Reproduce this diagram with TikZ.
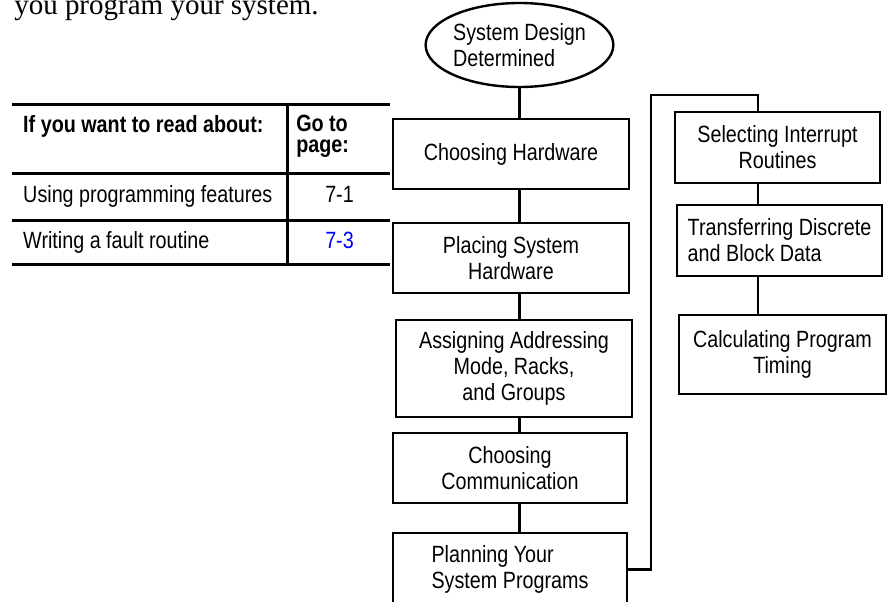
\documentclass[tikz,border=0pt]{standalone}
\usepackage{fontspec}
\setmainfont{Liberation Sans}[FakeStretch=0.84]
\newfontfamily\bodyfont{Liberation Serif}
\usetikzlibrary{positioning, shapes.geometric}

\begin{document}
\begin{tikzpicture}[x=1pt, y=-1pt, line width=2.5pt,
    every node/.style={font=\fontsize{23.5}{26}\selectfont, inner sep=0pt},
    stepbox/.style={draw, rectangle, line width=2.8pt, align=center},
    start/.style={draw, ellipse, line width=2.4pt, minimum width=187pt, minimum height=84pt, align=left},
    rule/.style={line width=3pt},
    cell/.style={anchor=base west}]
  \useasboundingbox (0,0) rectangle (887,602);

  % running text, cut at the top edge
  \node[anchor=base west, font=\bodyfont\fontsize{29}{32}\selectfont] (intro) at (13,15) {you program your system.};

  % table
  \draw[rule] (12,105) -- (390,105) (12,173) -- (390,173)
    (12,220) -- (390,220) (12,264) -- (390,264);
  \draw[rule] (287,105) -- (287,264);
  \node[cell, font=\bfseries\fontsize{23.5}{26}\selectfont] (thead) at (22,132) {If you want to read about:};
  \node[cell, font=\bfseries\fontsize{23.5}{21.5}\selectfont, align=left] (tgo) at (295,153) {Go to\\page:};
  \node[cell] (trow1) at (22,202) {Using programming features};
  \node[cell] (tpg1) at (324,202) {7-1};
  \node[cell] (trow2) at (22,248) {Writing a fault routine};
  \node[cell, text=blue] (tpg2) at (324,248) {7-3};

  % main column
  \node[start] (sd) at (519.5,45) {System Design\\Determined};
  \node[stepbox, minimum width=236pt, minimum height=70pt] (hw) at (511,154) {Choosing Hardware};
  \node[stepbox, minimum width=236pt, minimum height=70pt] (place) at (511,258) {Placing System\\Hardware};
  \node[stepbox, minimum width=236pt, minimum height=97pt] (addr) at (514,368.5) {Assigning Addressing\\Mode, Racks,\\and Groups};
  \node[stepbox, minimum width=234pt, minimum height=70pt] (comm) at (510,468) {Choosing\\Communication};
  \node[stepbox, minimum width=234pt, minimum height=73pt, align=left] (plan) at (510,569.5) {Planning Your\\System Programs};

  % programming column
  \node[stepbox, minimum width=205pt, minimum height=71pt] (intr) at (777.5,147.5) {Selecting Interrupt\\Routines};
  \node[stepbox, minimum width=205pt, minimum height=71pt, align=left] (xfer) at (779.5,240.5) {Transferring Discrete\\and Block Data};
  \node[stepbox, minimum width=207pt, minimum height=79pt] (timing) at (782.5,354.5) {Calculating Program\\Timing};

  \draw (sd.south) -- (sd.south |- hw.north);
  \foreach \a/\b in {hw/place, place/addr, addr/comm, comm/plan}
    \draw (sd.south |- \a.south) -- (sd.south |- \b.north);

  \coordinate (turn) at (651,95);
  \coordinate (rail) at (758,95);
  \draw (plan.east) -| (turn) -- (rail) -- (rail |- intr.north);
  \draw (rail |- intr.south) -- (rail |- xfer.north);
  \draw (rail |- xfer.south) -- (rail |- timing.north);
\end{tikzpicture}
\end{document}
